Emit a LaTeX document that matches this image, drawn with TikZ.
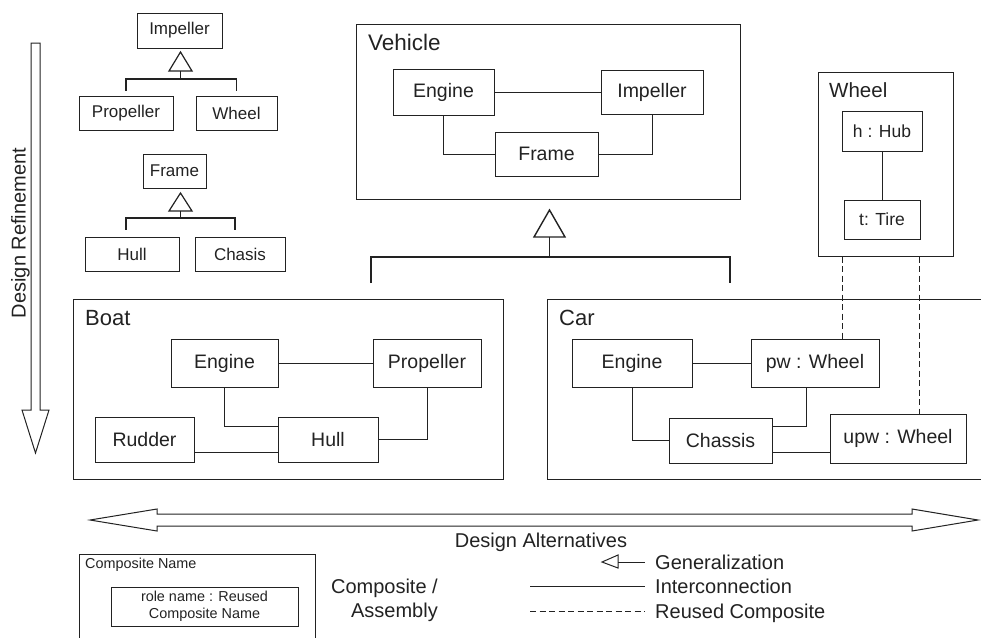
\documentclass[tikz,border=0pt]{standalone}
\usepackage{fontspec}
\setmainfont{Liberation Sans}
\usetikzlibrary{calc}
\definecolor{ink}{HTML}{222222}
\begin{document}
\begin{tikzpicture}[x=1pt,y=-1pt,
  wire/.style={draw=ink, line width=1pt},
  gen/.style={draw=ink, line width=1.6pt, line join=miter},
  reuse/.style={draw=ink, line width=1pt, dash pattern=on 6pt off 3.5pt},
  frame/.style={draw=ink, line width=1pt},
  part/.style={draw=ink, line width=1pt, inner sep=0pt, text=ink, align=center,
    font=\fontsize{19.5}{22}\selectfont},
  smallpart/.style={part, font=\fontsize{17}{20}\selectfont},
  wheelpart/.style={part, font=\fontsize{17.5}{20}\selectfont},
  title/.style={anchor=base west, inner sep=0pt, text=ink, font=\fontsize{22.5}{26}\selectfont},
  lbl/.style={inner sep=0pt, text=ink, font=\fontsize{20}{24}\selectfont},
  tiny/.style={inner sep=0pt, text=ink, font=\fontsize{14.4}{17}\selectfont},
]
\useasboundingbox (0,0) rectangle (981,637);

% ---------- refinement hierarchies (top left) ----------
\node[smallpart, minimum width=85pt, minimum height=35pt] (imp) at (179.5,30.5) {Impeller};
\node[smallpart, minimum width=94pt, minimum height=34pt] (prop1) at (126,113) {Propeller};
\node[smallpart, minimum width=81pt, minimum height=34pt] (whl1) at (236.5,113) {Wheel};
\coordinate (ta) at (180.5,52);
\draw[gen, line width=1.2pt] (ta) -- ++(-11.5,19) -- ++(23,0) -- cycle;
\draw[gen] ($(ta)+(0,19)$) -- ($(ta)+(0,27)$);
\draw[gen] ($(prop1.north)+(0,-5)$) |- ($(ta)+(0,27)$) -| ($(whl1.north)+(0,-5)$);

\node[smallpart, minimum width=63pt, minimum height=34pt] (frm) at (174.5,171) {Frame};
\node[smallpart, minimum width=94pt, minimum height=34pt] (hull1) at (132,254) {Hull};
\node[smallpart, minimum width=90pt, minimum height=34pt] (chs1) at (240,254) {Chasis};
\coordinate (tb) at (180.5,193);
\draw[gen, line width=1.2pt] (tb) -- ++(-11.5,18) -- ++(23,0) -- cycle;
\draw[gen] ($(tb)+(0,18)$) -- ($(tb)+(0,25)$);
\draw[gen] ($(hull1.north)+(-6,-7)$) |- ($(tb)+(0,25)$) -| ($(chs1.north)+(-5,-7)$);

% ---------- Vehicle ----------
\node[frame, minimum width=384pt, minimum height=175pt, inner sep=0pt] (veh) at (548,111.5) {};
\node[title] (vehT) at (368,50) {Vehicle};
\node[part, minimum width=101pt, minimum height=46pt] (eng0) at (443.5,92) {Engine};
\node[part, minimum width=102pt, minimum height=44pt] (imp0) at (652,92) {Impeller};
\node[part, minimum width=103pt, minimum height=44pt] (frm0) at (546.5,154) {Frame};
\draw[wire] (eng0) -- (imp0);
\draw[wire] (eng0.south) |- (frm0.west);
\draw[wire] (frm0.east) -| (imp0.south);

% generalization from Boat and Car to Vehicle
\coordinate (tv) at (549.5,210);
\draw[gen, line width=1.4pt] (tv) -- ++(-15.5,27) -- ++(31,0) -- cycle;
\draw[gen] ($(tv)+(0,27)$) -- ($(tv)+(0,47)$);
\coordinate (dropB) at (371,283);
\coordinate (dropC) at (730,283);
\draw[gen] (dropB) |- ($(tv)+(0,47)$) -| (dropC);

% ---------- Wheel ----------
\node[frame, minimum width=135pt, minimum height=184pt, inner sep=0pt] (whlc) at (885.5,164) {};
\node[title, font=\fontsize{20.5}{24}\selectfont] (whlT) at (829,97) {Wheel};
\node[wheelpart, minimum width=80pt, minimum height=40pt] (hub) at (882,131) {h : Hub};
\node[wheelpart, minimum width=76pt, minimum height=39pt] (tire) at (882,219.5) {t: Tire};
\draw[wire] (hub) -- (tire);

% ---------- Boat ----------
\node[frame, minimum width=430pt, minimum height=180pt, inner sep=0pt] (boat) at (288,389) {};
\node[title, font=\fontsize{22}{26}\selectfont] (boatT) at (85,325) {Boat};
\node[part, minimum width=107pt, minimum height=48pt] (engB) at (224.5,363) {Engine};
\node[part, minimum width=108pt, minimum height=48pt] (propB) at (427,363) {Propeller};
\node[part, minimum width=99pt, minimum height=45pt] (rud) at (144.5,439.5) {Rudder};
\node[part, minimum width=100pt, minimum height=45pt] (hullB) at (328,439.5) {Hull};
\draw[wire] (engB) -- (propB);
\draw[wire] (engB.south) |- ($(hullB.west)+(0,-13.5)$);
\draw[wire] ($(rud.east)+(0,12.5)$) -- ($(hullB.west)+(0,12.5)$);
\draw[wire] (hullB.east) -| (propB.south);

% ---------- Car (runs past the right edge) ----------
\coordinate (carTR) at (985,299);
\coordinate (carBR) at (985,479);
\draw[frame] (carTR) -- (547,299) -- (547,479) -- (carBR);
\node[title, font=\fontsize{22}{26}\selectfont] (carT) at (559,325) {Car};
\node[part, minimum width=120pt, minimum height=48pt] (engC) at (632,363) {Engine};
\node[part, minimum width=128pt, minimum height=48pt] (pw) at (815,363) {pw : Wheel};
\node[part, minimum width=103pt, minimum height=45pt] (chs) at (720.5,440.5) {Chassis};
\node[part, minimum width=136pt, minimum height=49pt] (upw) at (898,438.5) {upw : Wheel};
\draw[wire] (engC) -- (pw);
\draw[wire] (engC.south) |- (chs.west);
\draw[wire] ($(pw.south)+(-9,0)$) |- ($(chs.east)+(0,-14.5)$);
\coordinate (cu) at ($(chs.east)+(0,11.5)$);
\draw[wire] (cu) -- (cu -| upw.west);

% reused composite links
\coordinate (r1) at ($(whlc.south west)+(25,0)$);
\coordinate (r2) at ($(whlc.south west)+(102,0)$);
\draw[reuse] (r1) -- (r1 |- pw.north);
\draw[reuse] (r2) -- (r2 |- upw.north);

% ---------- Design refinement arrow ----------
\draw[frame, line join=miter] (31,43) -- (40,43) -- (40,410) -- (49,410) -- (35.5,453)
  -- (22,410) -- (31,410) -- cycle;
\node[lbl, rotate=90, anchor=base] (dref) at (25.5,233) {Design Refinement};

% ---------- Design alternatives arrow ----------
\draw[frame, line join=miter] (90,520) -- (157,509) -- (157,514) -- (912,514) -- (912,509)
  -- (978,520) -- (912,531) -- (912,526) -- (157,526) -- (157,531) -- cycle;
\node[lbl, anchor=base] (dalt) at (541,547) {Design Alternatives};

% ---------- Legend ----------
\draw[frame] (79,640) -- (79,554) -- (315,554) -- (315,640);
\node[tiny, anchor=base west] (cname) at (85,568) {Composite Name};
\node[draw=ink, line width=1pt, inner sep=0pt, align=center, text=ink,
  font=\fontsize{14.4}{17}\selectfont, minimum width=187pt, minimum height=39pt]
  (role) at (204.5,606.5) {role name : Reused\\Composite Name};
\node[lbl, anchor=base east] (cpA) at (438,593) {Composite /};
\node[lbl, anchor=base east] (cpB) at (438,617) {Assembly};

\coordinate (lgA) at (645,562);
\coordinate (lgT) at (618,562);
\draw[wire, line join=miter] (602,562) -- (618,555) -- (618,568) -- cycle;
\draw[wire] (lgT) -- (lgA);
\node[lbl, anchor=base west] (lg1) at (655,569) {Generalization};

\coordinate (lbA) at (530,586);
\coordinate (lbB) at (645,586);
\draw[wire] (lbA) -- (lbB);
\node[lbl, anchor=base west] (lg2) at (655,593) {Interconnection};

\coordinate (lcA) at (530,611);
\coordinate (lcB) at (645,611);
\draw[reuse] (lcA) -- (lcB);
\node[lbl, anchor=base west] (lg3) at (655,618) {Reused Composite};
\end{tikzpicture}
\end{document}
